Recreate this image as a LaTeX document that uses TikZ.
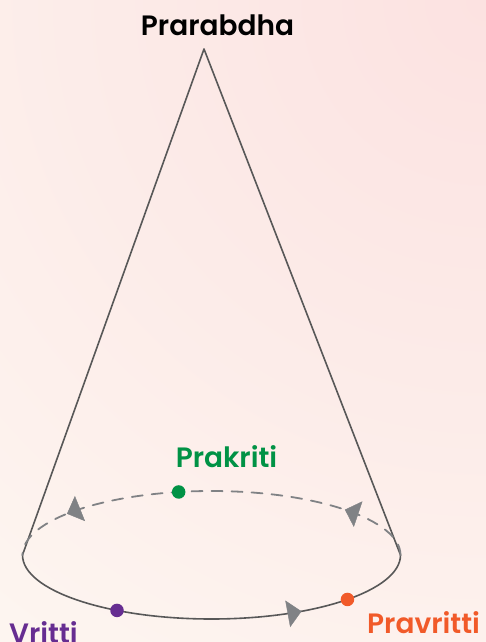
\documentclass[tikz,border=0pt]{standalone}
\usepackage{fontspec}
\setmainfont{Poppins}[BoldFont={Poppins SemiBold}, Ligatures=NoCommon]
\usetikzlibrary{arrows.meta,decorations.markings}
\definecolor{bgcream}{RGB}{253,249,243}
\definecolor{bgpink}{RGB}{252,226,225}
\definecolor{conegray}{RGB}{88,88,88}
\definecolor{dashgray}{RGB}{128,130,133}
\definecolor{prakgreen}{RGB}{0,146,69}
\definecolor{vritpurple}{RGB}{102,45,145}
\definecolor{pravorange}{RGB}{241,90,41}
\begin{document}
\begin{tikzpicture}[x=1pt,y=-1pt, line join=round, line cap=round,
    font=\bfseries\fontsize{28}{30}\selectfont,
    rim/.style={conegray, line width=1.6pt},
    backrim/.style={dashgray, line width=1.8pt, dash pattern=on 11pt off 9pt},
    dot/.style={circle, fill=#1, inner sep=0pt, minimum size=13.5pt},
    lbl/.style={anchor=base, text=#1, inner sep=0pt}]
  \def\cx{211.5} \def\cy{555} \def\rx{189} \def\ry{64} % base ellipse
  \useasboundingbox (0,0) rectangle (486,642);
  \clip (0,0) rectangle (486,642);
  % background
  \fill[bgcream] (0,0) rectangle (486,642);
  \shade[inner color=bgpink, outer color=bgcream] (486,0) circle (950);
  % cone
  \coordinate (apex) at (204,49);
  \coordinate (baseL) at (\cx-\rx,\cy);
  \coordinate (baseR) at (\cx+\rx,\cy);
  \draw[rim] (baseL) -- (apex) -- (baseR);
  \draw[rim] (baseL) arc[start angle=180, end angle=0, x radius=\rx, y radius=\ry];
  \draw[backrim] (baseR) arc[start angle=0, end angle=-180, x radius=\rx, y radius=\ry];
  % flow tips
  \foreach \a in {61.5,-45,-140}
    \path[decorate, decoration={markings, mark=at position 0.5 with
        {\arrow{Triangle[length=14pt, width=27pt, color=dashgray]}}}]
      ({\cx+\rx*cos(\a+4)},{\cy+\ry*sin(\a+4)}) arc[start angle=\a+4, end angle=\a-4, x radius=\rx, y radius=\ry];
  % points
  \node[dot=prakgreen] (prakdot) at ({\cx+\rx*cos(-100)},{\cy+\ry*sin(-100)}) {};
  \node[dot=vritpurple] (vritdot) at ({\cx+\rx*cos(120)},{\cy+\ry*sin(120)}) {};
  \node[dot=pravorange] (pravdot) at ({\cx+\rx*cos(44)},{\cy+\ry*sin(44)}) {};
  % labels
  \node[lbl=black] (prarabdha) at (217.5,36) {Prarabdha};
  \node[lbl=prakgreen] (prakriti) at (226.5,467) {Prakriti};
  \node[lbl=vritpurple, anchor=base west] (vritti) at (9,643) {Vritti};
  \node[lbl=pravorange, anchor=base west] (pravritti) at (367,633) {Pravritti};
\end{tikzpicture}
\end{document}
